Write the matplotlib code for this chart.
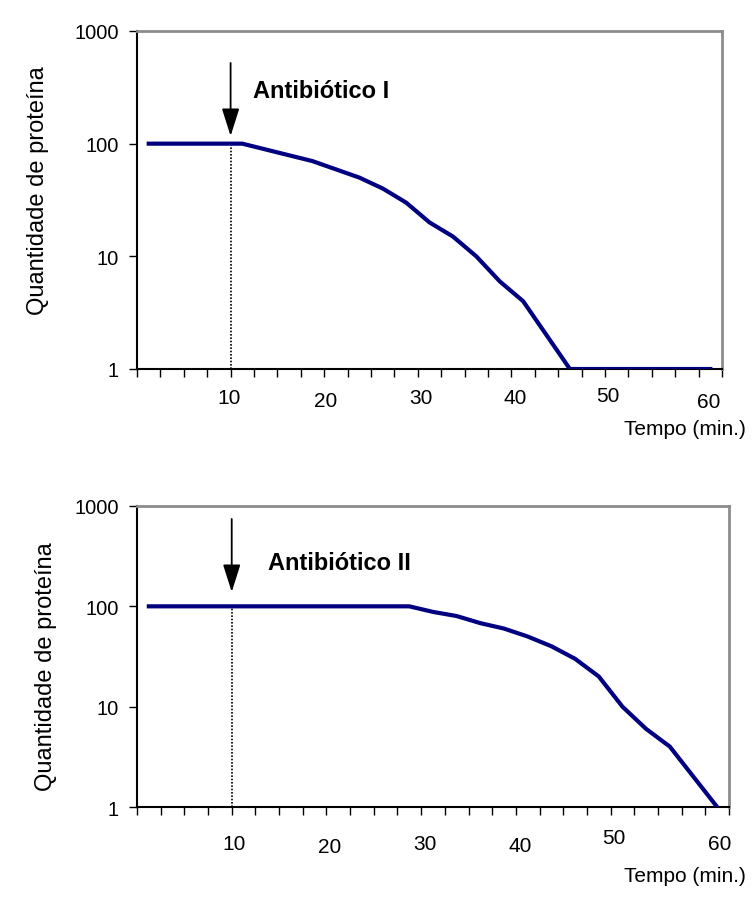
import matplotlib
matplotlib.use('Agg')
import matplotlib.pyplot as plt
from matplotlib.ticker import FixedLocator, FixedFormatter, NullFormatter, NullLocator

plt.rcParams['font.family'] = ['Liberation Sans', 'DejaVu Sans']

# --- dados ---
tempo_1 = [1.25, 11.25, 18.75, 23.75, 26.25, 28.75, 31.25, 33.75, 36.25, 38.75, 41.25, 46.25, 61.25]
proteina_1 = [100, 100, 70, 50, 40, 30, 20, 15, 10, 6, 4, 1, 1]

tempo_2 = [1.25, 28.75, 31.25, 33.75, 36.25, 38.75, 41.25, 43.75, 46.25, 48.75, 51.25, 53.75, 56.25, 58.75, 61.25]
proteina_2 = [100, 100, 88, 80, 68, 60, 50, 40, 30, 20, 10, 6, 4, 2, 1]

t_antibiotico = 10
x_ticks = [10, 20, 30, 40, 50, 60]
x_marcas = [i * 2.5 for i in range(26)]
y_ticks = [1, 10, 100, 1000]
y_labels = ['1', '10', '100', '1000']

# os rótulos do eixo x estão um pouco desalinhados no original (caixas de texto)
desvio_x_1 = [-0.17, 0.19, 0.34, 0.38, 0.32, 1.1]   # minutos
desvio_y_1 = [29, 32, 29, 29, 27, 32.5]             # px abaixo do eixo
desvio_x_2 = [0.24, 0.38, 0.4, 0.43, 0.36, 1.55]
desvio_y_2 = [37, 39.5, 37, 38, 31, 36]

LINE_COLOR = '#000080'
BORDER_GRAY = '#8c8c8c'

W, H = 756, 903
fig = plt.figure(figsize=(W / 100, H / 100), dpi=100)


def draw_panel(rect, tempo, proteina, nome, txt_xy, seta, dx, dy, ylab_xy, tempo_y):
    ax = fig.add_axes(rect)
    ax.set_yscale('log')
    ax.set_xlim(0, 62.5)
    ax.set_ylim(1, 1000)

    ax.plot(tempo, proteina, color=LINE_COLOR, lw=3, solid_joinstyle='round', zorder=3)

    # linha pontilhada no momento da adição do antibiótico
    ax.plot([t_antibiotico, t_antibiotico], [1, 100], color='black', lw=1.2,
            linestyle=(0, (1, 1)), zorder=2)

    # seta
    ax.annotate('', xy=(t_antibiotico, seta[1]), xytext=(t_antibiotico, seta[0]),
                arrowprops=dict(arrowstyle='-|>,head_length=0.85,head_width=0.27',
                                color='black', lw=1.3, mutation_scale=20,
                                shrinkA=0, shrinkB=0))
    ax.text(txt_xy[0], txt_xy[1], nome, fontsize=17, fontweight='bold',
            ha='left', va='baseline')

    # eixos
    ax.yaxis.set_major_locator(FixedLocator(y_ticks))
    ax.yaxis.set_major_formatter(FixedFormatter(y_labels))
    ax.yaxis.set_minor_locator(NullLocator())
    ax.xaxis.set_major_locator(FixedLocator(x_marcas))
    ax.xaxis.set_major_formatter(NullFormatter())
    ax.xaxis.set_minor_locator(NullLocator())

    ax.tick_params(axis='y', direction='out', length=6, width=1, labelsize=14.5, pad=7)
    ax.tick_params(axis='x', direction='out', length=6, width=1)

    for v, ddx, ddy in zip(x_ticks, dx, dy):
        ax.annotate(str(v), xy=(v + ddx, 0), xycoords=('data', 'axes fraction'),
                    xytext=(0, -ddy), textcoords='offset pixels',
                    fontsize=15, ha='center', va='center')

    for s in ['left', 'bottom']:
        ax.spines[s].set_color('black')
        ax.spines[s].set_linewidth(1.5)
    for s in ['top', 'right']:
        ax.spines[s].set_color(BORDER_GRAY)
        ax.spines[s].set_linewidth(2)

    fig.text(ylab_xy[0], ylab_xy[1], 'Quantidade de proteína', rotation=90,
             fontsize=17, ha='center', va='center')
    fig.text(746 / W, tempo_y, 'Tempo (min.)', fontsize=15, ha='right', va='center')
    return ax


draw_panel([137 / W, 1 - 370 / H, (722 - 137) / W, (370 - 32) / H],
           tempo_1, proteina_1, 'Antibiótico I',
           txt_xy=(12.4, 259), seta=(520, 117), dx=desvio_x_1, dy=desvio_y_1,
           ylab_xy=(38 / W, 1 - 191 / H), tempo_y=1 - 430 / H)

draw_panel([137 / W, 1 - 808 / H, (729 - 137) / W, (808 - 507) / H],
           tempo_2, proteina_2, 'Antibiótico II',
           txt_xy=(13.8, 236), seta=(742, 139), dx=desvio_x_2, dy=desvio_y_2,
           ylab_xy=(46 / W, 1 - 667 / H), tempo_y=1 - 877 / H)

fig.savefig('out.png', dpi=100)
